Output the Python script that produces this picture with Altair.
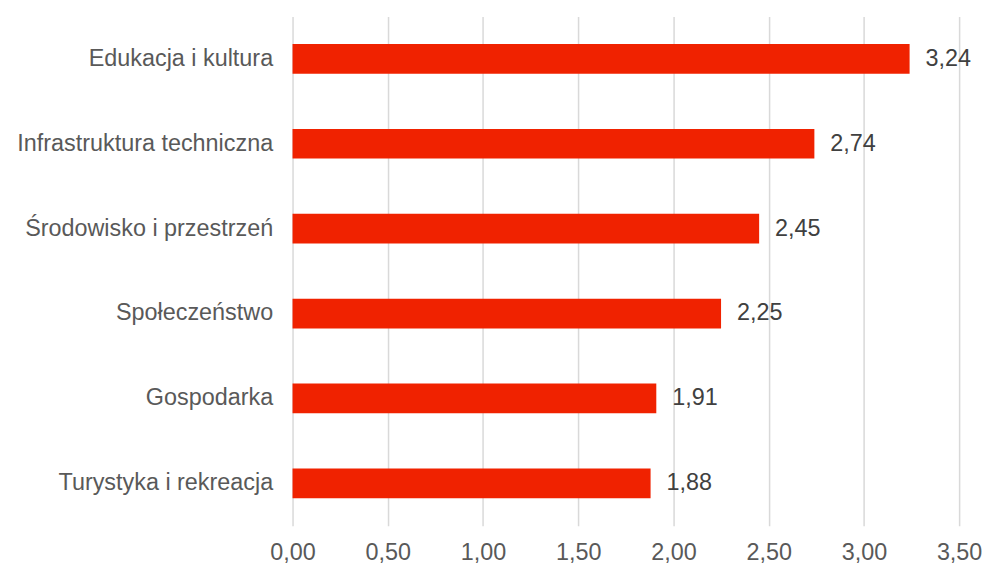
import altair as alt
import pandas as pd

categories = ["Edukacja i kultura", "Infrastruktura techniczna", "Środowisko i przestrzeń",
              "Społeczeństwo", "Gospodarka", "Turystyka i rekreacja"]
values = [3.24, 2.74, 2.45, 2.25, 1.91, 1.88]
x_ticks = [0, 0.5, 1.0, 1.5, 2.0, 2.5, 3.0, 3.5]

df = pd.DataFrame({"kategoria": categories, "wartosc": values})

FONT = "Liberation Sans"
FS = 23.5

y_enc = alt.Y("kategoria:N", sort=categories, title=None,
              scale=alt.Scale(paddingInner=0.65, paddingOuter=0.325),
              axis=alt.Axis(labelFontSize=FS, labelColor="#595959", labelFont=FONT, labelLimit=500,
                            ticks=False, domain=False, labelPadding=20, grid=False))
x_enc = alt.X("wartosc:Q", title=None,
              scale=alt.Scale(domain=[0, 3.5], nice=False),
              axis=alt.Axis(values=x_ticks, labelFontSize=FS, labelColor="#595959", labelFont=FONT,
                            labelExpr="replace(format(datum.value, '.2f'), '.', ',')",
                            labelFlush=False, labelOverlap=False,
                            ticks=False, domain=False, grid=True, gridColor="#D9D9D9",
                            gridWidth=1.5, labelPadding=15))

bars = alt.Chart(df).mark_bar(color="#F02200").encode(y=y_enc, x=x_enc)
text = alt.Chart(df).transform_calculate(
    lab="replace(format(datum.wartosc, '.2f'), '.', ',')"
).mark_text(align="left", baseline="middle", dx=16, fontSize=FS, font=FONT, color="#404040").encode(
    y=alt.Y("kategoria:N", sort=categories), x="wartosc:Q", text="lab:N")

chart = (bars + text).properties(width=670, height=512,
                                 padding={"left": 8, "top": 7, "right": 0, "bottom": 0}).configure_view(stroke=None)
chart.save("out.html", embed_options={"renderer": "svg", "actions": False})
